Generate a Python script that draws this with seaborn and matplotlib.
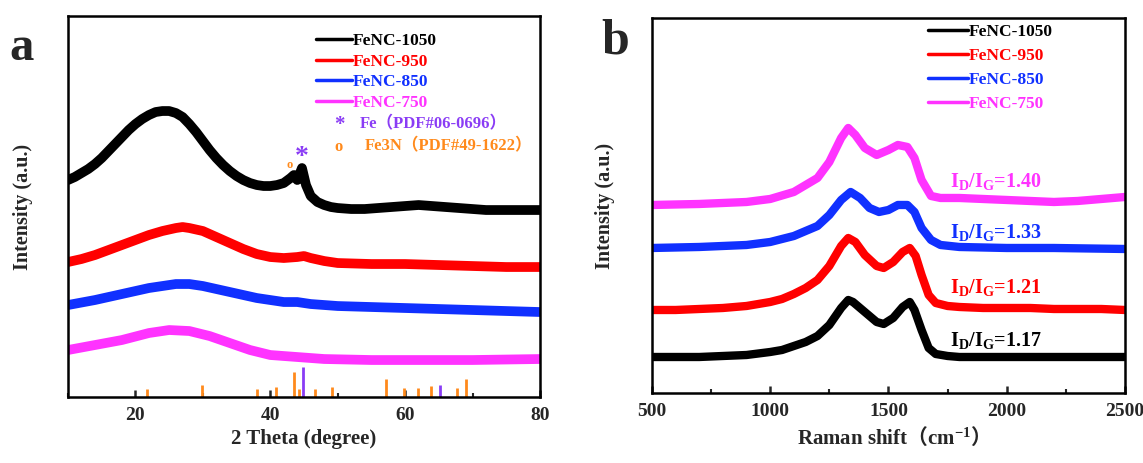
import matplotlib
matplotlib.use("Agg")
import matplotlib.pyplot as plt
from matplotlib.ticker import MultipleLocator
import seaborn as sns

# ---- XRD data (panel a) ----
xrd_x_black = [10, 11, 12, 13, 14, 15, 16, 17, 18, 19, 20, 21, 22, 23, 24, 25, 26, 27, 28, 29,
               30, 31, 32, 33, 34, 35, 36, 37, 38, 39, 40, 41, 42, 43, 43.5, 44, 44.7, 45.3,
               46, 47, 48, 49, 50, 52, 54, 56, 58, 60, 62, 64, 66, 68, 70, 72, 74, 76, 78, 80]
xrd_black = [217, 220, 224, 228, 233, 239, 246, 253, 260, 267, 273, 278, 282, 285, 286, 286,
             284, 280, 273, 265, 256, 247, 239, 232, 226, 221, 217, 214, 212, 211, 211, 212,
             214, 219, 222, 217, 229, 212, 201, 195, 192, 190, 189, 188, 188, 189, 190, 191,
             192, 191, 190, 189, 188, 187, 187, 187, 187, 187]

xrd_x_red = [10, 12, 14, 16, 18, 20, 22, 24, 26, 27, 28, 30, 32, 34, 36, 38, 40, 42, 44, 45,
             46, 48, 50, 55, 60, 65, 70, 75, 80]
xrd_red = [135, 138, 142, 147, 152, 157, 162, 166, 169, 170, 169, 166, 160, 154, 148, 143,
           140, 139, 140, 141, 139, 136, 134, 133, 133, 132, 131, 130, 130]

xrd_x_blue = [10, 14, 18, 22, 26, 28, 30, 34, 38, 42, 44, 46, 50, 60, 70, 80]
xrd_blue = [92, 97, 103, 109, 113, 113, 111, 105, 99, 95, 95, 93, 91, 89, 87, 85]

xrd_x_mag = [10, 14, 18, 22, 25, 28, 31, 34, 37, 40, 44, 48, 55, 60, 70, 80]
xrd_mag = [47, 52, 57, 64, 67, 66, 61, 54, 47, 42, 40, 38, 37, 37, 37, 38]

# reference patterns
fe3n_pos = [21.7, 29.8, 38.1, 40.9, 43.5, 44.3, 46.7, 49.1, 57.1, 59.9, 61.9, 63.9, 67.7, 69.1]
fe3n_h = [8, 12, 8, 10, 25, 8, 8, 10, 18, 9, 9, 11, 9, 18]
fe_pos = [44.8, 65.2]
fe_h = [30, 12]

# ---- Raman data (panel b) ----
ram_x_black = [500, 600, 700, 800, 900, 1000, 1050, 1100, 1150, 1200, 1250, 1300, 1330, 1350,
               1400, 1450, 1480, 1520, 1560, 1590, 1610, 1640, 1670, 1700, 1750, 1800, 1900,
               2000, 2100, 2200, 2300, 2400, 2500]
ram_black = [36, 36, 36, 37, 38, 41, 43, 47, 51, 57, 68, 85, 93, 91, 81, 71, 69, 75, 86, 91,
             83, 63, 45, 39, 37, 36, 36, 36, 36, 36, 36, 36, 36]

ram_x_red = [500, 600, 700, 800, 900, 1000, 1050, 1100, 1150, 1200, 1250, 1300, 1330, 1360,
             1400, 1450, 1480, 1520, 1560, 1590, 1615, 1640, 1670, 1700, 1750, 1800, 1900,
             2000, 2100, 2200, 2300, 2400, 2500]
ram_red = [83, 83, 84, 85, 87, 91, 94, 99, 105, 113, 127, 147, 155, 151, 138, 127, 125, 131,
           141, 145, 137, 118, 98, 90, 87, 86, 85, 85, 85, 84, 84, 84, 83]

ram_x_blue = [500, 700, 900, 1000, 1100, 1200, 1250, 1300, 1340, 1380, 1420, 1460, 1500, 1540,
              1580, 1610, 1640, 1680, 1720, 1800, 2000, 2200, 2500]
ram_blue = [145, 146, 148, 151, 157, 167, 178, 193, 201, 195, 185, 181, 183, 188, 188, 181,
            165, 153, 148, 146, 145, 145, 144]

ram_x_mag = [500, 700, 900, 1000, 1100, 1200, 1250, 1300, 1330, 1360, 1400, 1450, 1500, 1540,
             1580, 1610, 1640, 1680, 1720, 1800, 1900, 2000, 2100, 2200, 2300, 2400, 2500]
ram_mag = [188, 189, 191, 194, 201, 215, 231, 255, 265, 258, 245, 238, 243, 248, 246, 235,
           213, 197, 195, 195, 194, 193, 192, 191, 192, 194, 196]

labels = ["FeNC-1050", "FeNC-950", "FeNC-850", "FeNC-750"]
colors = ["black", "#FF0000", "#1030FF", "#FF33FF"]
ratio_text = ["1.17", "1.21", "1.33", "1.40"]
purple = "#8A3CF5"
orange = "#FF8A1C"

sns.set_theme(style="ticks")
plt.rcParams["font.family"] = ["Liberation Serif", "Noto Sans CJK SC"]
plt.rcParams["font.weight"] = "bold"
plt.rcParams["axes.labelweight"] = "bold"
plt.rcParams["mathtext.fontset"] = "custom"
plt.rcParams["mathtext.rm"] = "Liberation Serif:bold"
plt.rcParams["mathtext.it"] = "Liberation Serif:bold"
plt.rcParams["mathtext.bf"] = "Liberation Serif:bold"
plt.rcParams["mathtext.sf"] = "Noto Sans CJK SC:bold"

fig = plt.figure(figsize=(11.43, 4.63), dpi=100)
ax_a = fig.add_axes([0.0595, 0.1425, 0.4129, 0.8229])
ax_b = fig.add_axes([0.5704, 0.1512, 0.4138, 0.8100])

# ---- panel a ----
xrd_sets = [(xrd_x_black, xrd_black), (xrd_x_red, xrd_red),
            (xrd_x_blue, xrd_blue), (xrd_x_mag, xrd_mag)]
for (xs, ys), lab, c in zip(xrd_sets, labels, colors):
    sns.lineplot(x=xs, y=ys, ax=ax_a, color=c, lw=7, label=lab)
ax_a.vlines(fe3n_pos, 0, fe3n_h, color=orange, lw=2)
ax_a.vlines(fe_pos, 0, fe_h, color=purple, lw=2)
# peak markers over the Fe / Fe3N reflection
ax_a.text(44.7, 240, "*", color=purple, fontsize=20, ha="center", va="center")
ax_a.text(42.8, 232, "o", color=orange, fontsize=9, ha="center", va="center")

ax_a.set_xlim(10, 80)
ax_a.set_ylim(0, 381)
ax_a.set_xlabel("2 Theta (degree)", fontsize=15)
ax_a.set_ylabel("Intensity (a.u.)", fontsize=14.5)
ax_a.yaxis.set_label_coords(-0.074, 0.5)

leg_a = ax_a.legend(loc="upper left", bbox_to_anchor=(0.525, 0.955), frameon=False,
                    fontsize=12.5, handlelength=2.1, handletextpad=0.05, labelspacing=0.25,
                    borderpad=0, borderaxespad=0, labelcolor="linecolor")
for ln in leg_a.get_lines():
    ln.set_linewidth(2.5)
ax_a.text(0.574, 0.714, "*", transform=ax_a.transAxes, color=purple, fontsize=15,
          ha="center", va="center")
ax_a.text(0.619, 0.717, "Fe（PDF#06-0696）", transform=ax_a.transAxes, color=purple,
          fontsize=12, ha="left", va="center")
ax_a.text(0.574, 0.657, "o", transform=ax_a.transAxes, color=orange, fontsize=12,
          ha="center", va="center")
ax_a.text(0.629, 0.657, "Fe3N（PDF#49-1622）", transform=ax_a.transAxes, color=orange,
          fontsize=12, ha="left", va="center")

ax_a.xaxis.set_major_locator(MultipleLocator(20))
ax_a.xaxis.set_minor_locator(MultipleLocator(10))

# ---- panel b ----
ram_sets = [(ram_x_black, ram_black), (ram_x_red, ram_red),
            (ram_x_blue, ram_blue), (ram_x_mag, ram_mag)]
for (xs, ys), lab, c in zip(ram_sets, labels, colors):
    sns.lineplot(x=xs, y=ys, ax=ax_b, color=c, lw=6, label=lab)
ax_b.set_xlim(500, 2500)
ax_b.set_ylim(0, 375)
ax_b.set_xlabel("Raman shift$\\mathsf{（}\\mathrm{cm^{-1}}\\mathsf{）}$", fontsize=15)
ax_b.set_ylabel("Intensity (a.u.)", fontsize=14.5)
ax_b.yaxis.set_label_coords(-0.078, 0.5)
ax_b.xaxis.set_major_locator(MultipleLocator(500))
ax_b.xaxis.set_minor_locator(MultipleLocator(250))

leg_b = ax_b.legend(loc="upper left", bbox_to_anchor=(0.5835, 0.984),
                    frameon=False, fontsize=12.5, handlelength=2.3, handletextpad=0.05,
                    labelspacing=0.45, borderpad=0, borderaxespad=0, labelcolor="linecolor")
for ln in leg_b.get_lines():
    ln.set_linewidth(2.5)

ratio_y = [0.141, 0.280, 0.429, 0.563]
for t, c, yy in zip(ratio_text, colors, ratio_y):
    ax_b.text(0.63, yy, "$\\mathrm{I_D/I_G}$=" + t, transform=ax_b.transAxes, color=c,
              fontsize=14.5, ha="left", va="center")

for ax in (ax_a, ax_b):
    ax.set_yticks([])
    for sp in ax.spines.values():
        sp.set_linewidth(1.8)
        sp.set_color("black")
    ax.tick_params(axis="x", which="major", direction="in", length=5, width=1.8,
                   labelsize=14, pad=7, top=False)
    ax.tick_params(axis="x", which="minor", direction="in", length=3, width=1.5, top=False)
    for tl in ax.get_xticklabels():
        tl.set_fontweight("bold")

fig.text(22 / 1143, 1 - 48 / 463, "a", fontsize=35, ha="center", va="center")
fig.text(615 / 1143, 1 - 42 / 463, "b", fontsize=36, ha="center", va="center")

fig.savefig("out.png", dpi=100)
